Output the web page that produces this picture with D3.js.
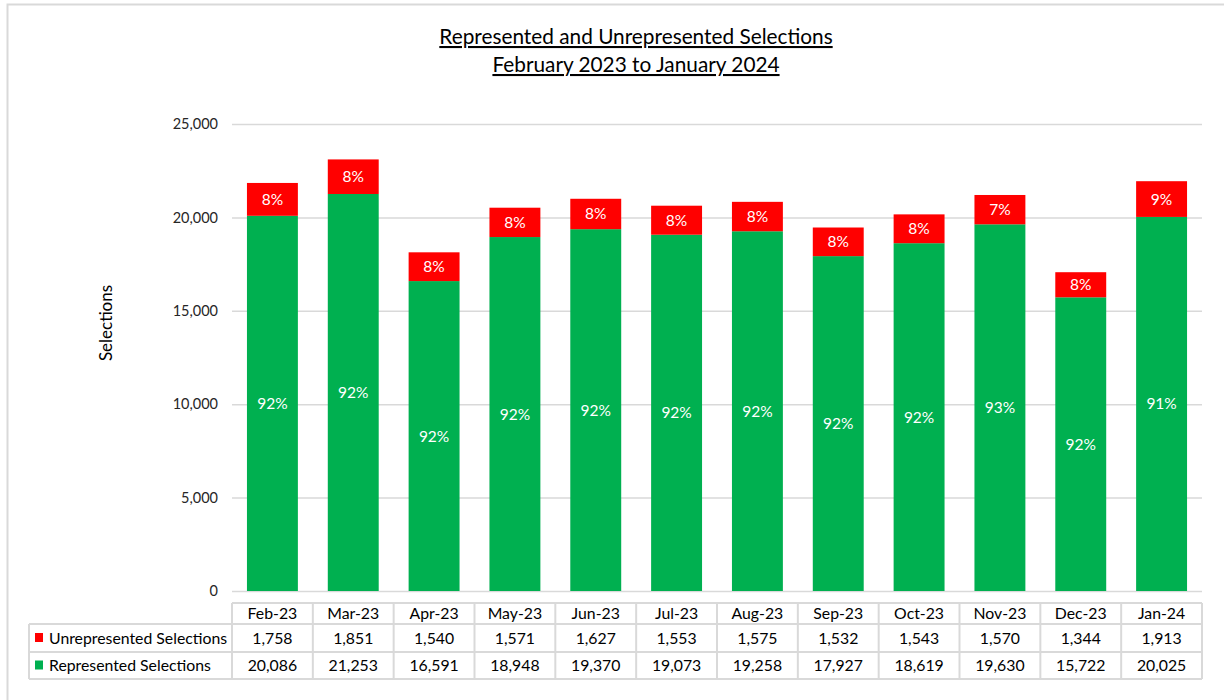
<!DOCTYPE html>
<html>
<head>
<meta charset="utf-8">
<script src="https://cdn.jsdelivr.net/npm/d3@7"></script>
<style>
  html, body { margin: 0; padding: 0; background: #fff; }
  svg { display: block; font-family: Lato, "Open Sans", sans-serif; }
</style>
</head>
<body>
<svg id="chart" width="1224" height="700"></svg>
<script>
const months = ["Feb-23","Mar-23","Apr-23","May-23","Jun-23","Jul-23","Aug-23","Sep-23","Oct-23","Nov-23","Dec-23","Jan-24"];
const unrepresented = [1758,1851,1540,1571,1627,1553,1575,1532,1543,1570,1344,1913];
const represented = [20086,21253,16591,18948,19370,19073,19258,17927,18619,19630,15722,20025];
const yTicks = [0,5000,10000,15000,20000,25000];
const titleLines = ["Represented and Unrepresented Selections","February 2023 to January 2024"];

const green = "#00b050", red = "#ff0000", grid = "#d9d9d9", txt = "#262626";
const plot = {left: 232, right: 1202, top: 124, bottom: 591};
const table = {labelLeft: 29, headTop: 603, row1: 624, row2: 652, bottom: 679};

const svg = d3.select("#chart");

// outer chart border
svg.append("rect")
  .attr("x", 7.5).attr("y", 4.5).attr("width", 1260).attr("height", 720)
  .attr("fill", "none").attr("stroke", grid).attr("stroke-width", 2);

// title
titleLines.forEach((t, i) => {
  svg.append("text")
    .attr("x", 636).attr("y", 44 + i * 28)
    .attr("text-anchor", "middle")
    .attr("font-size", 20.8)
    .attr("fill", "#000")
    .attr("text-decoration", "underline")
    .text(t);
});

const x = d3.scaleBand().domain(months).range([plot.left, plot.right]).paddingInner(0.37).paddingOuter(0.185);
const cols = d3.scaleBand().domain(months).range([plot.left, plot.right]);
const y = d3.scaleLinear().domain([0, 25000]).range([plot.bottom, plot.top]);

// gridlines + y labels
const yAxis = d3.axisLeft(y).tickValues(yTicks).tickSize(-(plot.right - plot.left)).tickPadding(14).tickFormat(d3.format(","));
const gy = svg.append("g").attr("transform", `translate(${plot.left},0)`).call(yAxis);
gy.select(".domain").remove();
gy.selectAll(".tick line").attr("stroke", grid).attr("stroke-width", 1.5);
gy.selectAll(".tick text").attr("font-size", 14.5).attr("fill", txt).attr("font-family", "Lato, sans-serif");

svg.append("text")
  .attr("transform", "translate(112,323) rotate(-90)")
  .attr("text-anchor", "middle")
  .attr("font-size", 17).attr("fill", "#000")
  .text("Selections");

// stacked bars
const data = months.map((m, i) => ({m, rep: represented[i], unrep: unrepresented[i]}));
const bars = svg.append("g");
bars.selectAll(".rep").data(data).enter().append("rect")
  .attr("x", d => x(d.m)).attr("width", x.bandwidth())
  .attr("y", d => y(d.rep)).attr("height", d => y(0) - y(d.rep))
  .attr("fill", green);
bars.selectAll(".unrep").data(data).enter().append("rect")
  .attr("x", d => x(d.m)).attr("width", x.bandwidth())
  .attr("y", d => y(d.rep + d.unrep)).attr("height", d => y(d.rep) - y(d.rep + d.unrep))
  .attr("fill", red);

// percentage labels
const pct = d => Math.round(d * 100) + "%";
bars.selectAll(".rl").data(data).enter().append("text")
  .attr("x", d => x(d.m) + x.bandwidth() / 2)
  .attr("y", d => (y(0) + y(d.rep)) / 2 + 5.5)
  .attr("text-anchor", "middle").attr("font-size", 15.5).attr("fill", "#fff")
  .text(d => pct(d.rep / (d.rep + d.unrep)));
bars.selectAll(".ul").data(data).enter().append("text")
  .attr("x", d => x(d.m) + x.bandwidth() / 2)
  .attr("y", d => (y(d.rep) + y(d.rep + d.unrep)) / 2 + 5.5)
  .attr("text-anchor", "middle").attr("font-size", 15.5).attr("fill", "#fff")
  .text(d => pct(d.unrep / (d.rep + d.unrep)));

// data table
const tg = svg.append("g");
const line = (x1, y1, x2, y2) => tg.append("line")
  .attr("x1", x1).attr("y1", y1).attr("x2", x2).attr("y2", y2)
  .attr("stroke", grid).attr("stroke-width", 2);
line(plot.left, table.headTop, plot.right, table.headTop);
line(table.labelLeft, table.row1, plot.right, table.row1);
line(table.labelLeft, table.row2, plot.right, table.row2);
line(table.labelLeft, table.bottom, plot.right, table.bottom);
line(table.labelLeft, table.row1, table.labelLeft, table.bottom);
months.forEach(m => line(cols(m), table.headTop, cols(m), table.bottom));
line(plot.right, table.headTop, plot.right, table.bottom);

const cx = m => cols(m) + cols.bandwidth() / 2;
const rowsY = [(table.headTop + table.row1) / 2, (table.row1 + table.row2) / 2, (table.row2 + table.bottom) / 2];
const fmt = d3.format(",");
const cellText = (xx, yy, t, anchor) => tg.append("text")
  .attr("x", xx).attr("y", yy + 5.5).attr("text-anchor", anchor || "middle")
  .attr("font-size", 15.8).attr("fill", "#000").text(t);
months.forEach((m, i) => {
  cellText(cx(m), rowsY[0], m);
  cellText(cx(m), rowsY[1], fmt(unrepresented[i]));
  cellText(cx(m), rowsY[2], fmt(represented[i]));
});
[["Unrepresented Selections", red], ["Represented Selections", green]].forEach(([name, c], i) => {
  tg.append("rect").attr("x", 35).attr("y", rowsY[i + 1] - 5).attr("width", 8).attr("height", 9).attr("fill", c);
  cellText(49, rowsY[i + 1], name, "start");
});
</script>
</body>
</html>
